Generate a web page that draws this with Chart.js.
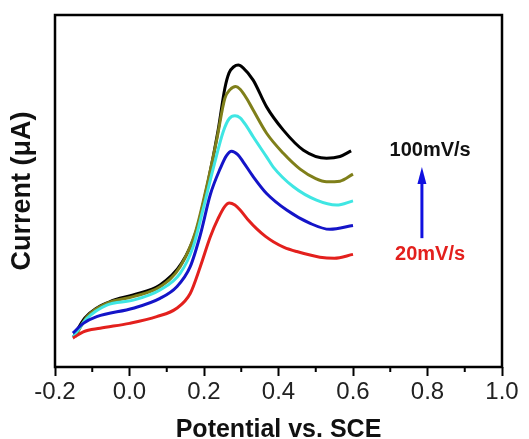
<!DOCTYPE html>
<html>
<head>
<meta charset="utf-8">
<script src="https://cdn.jsdelivr.net/npm/chart.js@4/dist/chart.umd.min.js"></script>
<style>
  html, body { margin: 0; padding: 0; background: #fff; }
  #c { display: block; }
</style>
</head>
<body>
<canvas id="c" width="529" height="439"></canvas>
<script>
// Linear sweep voltammograms at five scan rates (current in arbitrary μA units)
const scanRates = ['20mV/s', '40mV/s', '60mV/s', '80mV/s', '100mV/s'];

const potential20 = [-0.152, -0.124, -0.079, 0.0, 0.073, 0.127, 0.163, 0.19, 0.217, 0.238, 0.255, 0.268, 0.283, 0.297, 0.32, 0.341, 0.365, 0.386, 0.415, 0.449, 0.511, 0.55, 0.6];
const current20   = [8.2, 10.0, 11.0, 12.4, 14.3, 16.7, 20.9, 28.5, 37.0, 42.2, 45.5, 46.6, 46.0, 44.6, 41.6, 39.3, 37.1, 35.6, 34.0, 32.8, 31.2, 30.9, 32.0];

const potential40 = [-0.152, -0.124, -0.088, 0.01, 0.082, 0.127, 0.163, 0.19, 0.217, 0.244, 0.26, 0.274, 0.29, 0.305, 0.332, 0.368, 0.422, 0.485, 0.538, 0.6];
const current40   = [9.6, 12.4, 14.3, 16.7, 19.5, 22.8, 28.5, 37.5, 49.0, 56.5, 60.0, 61.3, 60.4, 58.3, 54.1, 49.3, 44.6, 40.8, 39.1, 40.2];

const potential60 = [-0.152, -0.114, -0.061, 0.01, 0.082, 0.136, 0.171, 0.198, 0.225, 0.252, 0.268, 0.283, 0.297, 0.315, 0.332, 0.368, 0.386, 0.44, 0.502, 0.556, 0.6];
const current60   = [8.4, 13.8, 17.6, 19.0, 21.9, 26.6, 34.2, 45.0, 56.5, 67.0, 70.6, 71.4, 70.8, 68.3, 65.4, 59.7, 56.8, 51.2, 47.4, 46.0, 47.2];

const potential80 = [-0.146, -0.114, -0.061, 0.01, 0.082, 0.136, 0.176, 0.207, 0.234, 0.256, 0.27, 0.285, 0.297, 0.315, 0.332, 0.368, 0.413, 0.458, 0.5, 0.529, 0.565, 0.6];
const current80   = [8.6, 14.3, 18.1, 20.0, 22.8, 28.5, 38.0, 51.2, 64.5, 76.3, 78.8, 79.7, 78.9, 76.2, 73.0, 66.4, 60.7, 56.2, 53.5, 52.6, 52.8, 54.8];

const potential100 = [-0.15, -0.12, -0.052, 0.01, 0.082, 0.14, 0.18, 0.212, 0.238, 0.256, 0.267, 0.28, 0.292, 0.305, 0.332, 0.368, 0.413, 0.467, 0.529, 0.565, 0.595];
const current100   = [8.6, 13.9, 18.6, 20.5, 23.3, 29.5, 38.9, 53.1, 67.3, 79.2, 83.5, 85.3, 85.8, 85.0, 81.5, 73.9, 67.3, 61.6, 59.3, 59.8, 61.4];

const xMajorTicks = [-0.2, 0.0, 0.2, 0.4, 0.6, 0.8, 1.0];
const xMinorTicks = [-0.1, 0.1, 0.3, 0.5, 0.7, 0.9];

// Scan-rate arrow and its end labels, in data coordinates
const arrowX = 0.785;
const arrowFromY = 36.6;
const arrowToY = 56.8;
const labelX = 0.807;
const topLabelY = 61.4;
const bottomLabelY = 32.1;

const colors = ['#e3201d', '#1414c8', '#3fe6e3', '#7f7f1a', '#000000'];
const potentials = [potential20, potential40, potential60, potential80, potential100];
const currents = [current20, current40, current60, current80, current100];

const datasets = scanRates.map((rate, i) => ({
  label: rate,
  data: potentials[i].map((x, j) => ({ x, y: currents[i][j] })),
  borderColor: colors[i],
  borderWidth: 3,
  pointRadius: 0,
  fill: false,
  cubicInterpolationMode: 'monotone'
}));

const framePlugin = {
  id: 'frame',
  afterDraw(chart) {
    const { ctx, chartArea: a, scales } = chart;
    const xs = scales.x, ys = scales.y;
    ctx.save();
    // plot frame
    ctx.strokeStyle = '#000';
    ctx.lineWidth = 2.5;
    ctx.strokeRect(a.left, a.top, a.right - a.left, a.bottom - a.top);
    // minor ticks
    ctx.lineWidth = 2;
    xMinorTicks.forEach(v => {
      const px = xs.getPixelForValue(v);
      ctx.beginPath();
      ctx.moveTo(px, a.bottom);
      ctx.lineTo(px, a.bottom + 5);
      ctx.stroke();
    });
    // scan-rate arrow
    const ax = xs.getPixelForValue(arrowX);
    const y0 = ys.getPixelForValue(arrowFromY);
    const y1 = ys.getPixelForValue(arrowToY);
    ctx.strokeStyle = '#1010e0';
    ctx.fillStyle = '#1010e0';
    ctx.lineWidth = 3;
    ctx.beginPath();
    ctx.moveTo(ax, y0);
    ctx.lineTo(ax, y1 + 12);
    ctx.stroke();
    ctx.beginPath();
    ctx.moveTo(ax, y1);
    ctx.lineTo(ax - 4.5, y1 + 17);
    ctx.lineTo(ax + 4.5, y1 + 17);
    ctx.closePath();
    ctx.fill();
    // labels
    const lx = xs.getPixelForValue(labelX);
    ctx.font = 'bold 20px "Liberation Sans", Arial, sans-serif';
    ctx.textAlign = 'center';
    ctx.textBaseline = 'middle';
    ctx.fillStyle = '#111';
    ctx.fillText(scanRates[4], lx, ys.getPixelForValue(topLabelY));
    ctx.fillStyle = '#e3201d';
    ctx.fillText(scanRates[0], lx, ys.getPixelForValue(bottomLabelY));
    ctx.restore();
  }
};

new Chart(document.getElementById('c'), {
  type: 'line',
  data: { datasets },
  options: {
    responsive: false,
    devicePixelRatio: 1,
    animation: false,
    layout: { padding: { top: 15, right: 27, left: 0, bottom: 0 } },
    plugins: { legend: { display: false }, tooltip: { enabled: false } },
    scales: {
      x: {
        type: 'linear',
        min: -0.2,
        max: 1.0,
        afterBuildTicks(scale) { scale.ticks = xMajorTicks.map(v => ({ value: v })); },
        afterFit(scale) { scale.height = 72; },
        ticks: {
          color: '#222',
          padding: 2,
          maxRotation: 0,
          font: { family: '"Liberation Sans", Arial, sans-serif', size: 24 },
          callback: v => v.toFixed(1)
        },
        grid: {
          display: true,
          drawOnChartArea: false,
          drawTicks: true,
          tickLength: 9,
          tickWidth: 2,
          tickColor: '#000'
        },
        border: { display: false },
        title: {
          display: true,
          text: 'Potential vs. SCE',
          color: '#111',
          padding: { top: 4, bottom: -6 },
          font: { family: '"Liberation Sans", Arial, sans-serif', size: 25, weight: 'bold' }
        }
      },
      y: {
        type: 'linear',
        min: 0,
        max: 100,
        afterFit(scale) { scale.width = 55; },
        ticks: { display: false },
        grid: { display: false },
        border: { display: false },
        title: {
          display: true,
          text: 'Current (μA)',
          color: '#111',
          padding: { top: 6, bottom: 0 },
          font: { family: '"Liberation Sans", Arial, sans-serif', size: 27, weight: 'bold' }
        }
      }
    }
  },
  plugins: [framePlugin]
});
</script>
</body>
</html>
